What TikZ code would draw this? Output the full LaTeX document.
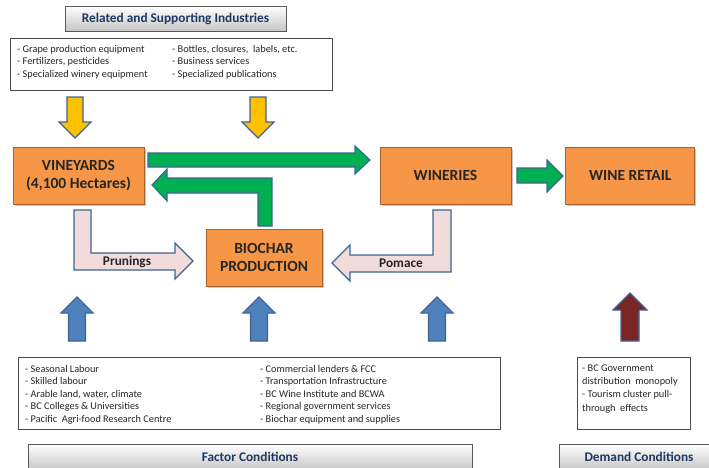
\documentclass[tikz,border=0pt]{standalone}
\usepackage{fontspec}
\setmainfont{Carlito}
\usetikzlibrary{positioning, calc, shadows}
\definecolor{boxorange}{HTML}{F79646}
\definecolor{boxedge}{HTML}{A8612B}
\definecolor{arrline}{HTML}{3D6495}
\definecolor{arrgreen}{HTML}{00B050}
\definecolor{arryellow}{HTML}{FFC000}
\definecolor{arrpink}{HTML}{F2DCDB}
\definecolor{arrblue}{HTML}{4F81BD}
\definecolor{arrred}{HTML}{7B2525}
\definecolor{titleblue}{HTML}{1F3864}
\definecolor{textdark}{HTML}{262626}
\tikzstyle{Box} = [
draw=boxedge, fill=boxorange, line width=0.8pt,
minimum width=131pt, minimum height=57pt, align=center,
font=\fontsize{15.5}{18}\selectfont\bfseries, text=textdark,
drop shadow={shadow xshift=1.5pt, shadow yshift=-1.5pt, opacity=0.45}]
\tikzstyle{Head} = [
draw=gray!70!black, line width=0.6pt, top color=white, bottom color=gray!45,
font=\fontsize{13.3}{15}\selectfont\bfseries, text=titleblue,
drop shadow={shadow xshift=1.2pt, shadow yshift=-1.2pt, opacity=0.35}]
\tikzstyle{List} = [draw=gray!60!black, line width=0.7pt, fill=white]
\tikzstyle{Items} = [anchor=north west, inner sep=0pt, align=left,
font=\fontsize{10.3}{12.5}\selectfont, text=textdark]
\tikzstyle{Arr} = [draw=arrline, line width=1.1pt, line join=miter]
\tikzstyle{Flow} = [font=\fontsize{13.3}{15}\selectfont\bfseries, text=textdark]

\begin{document}
\begin{tikzpicture}[x=1pt, y=-1pt]
    \useasboundingbox (0,0) rectangle (709,467);
    % related and supporting industries
    \node (1) [Head, minimum width=221pt, minimum height=25pt] at (175.5,18.5) {Related and Supporting Industries};
    \node (2) [List, minimum width=322pt, minimum height=52pt] at (171,64) {};
    \node [Items] at (17,45) {- Grape production equipment\\- Fertilizers, pesticides\\- Specialized winery equipment};
    \node [Items] at (172,45) {- Bottles, closures,\ \ labels, etc.\\- Business services\\- Specialized publications};
    % the cluster
    \node (3) [Box] at (78.5,176) {VINEYARDS\\(4,100 Hectares)};
    \node (4) [Box] at (445.5,175.5) {WINERIES};
    \node (5) [Box, minimum width=129pt, right=54pt of 4] {WINE RETAIL};
    \node (6) [Box, minimum width=116pt, minimum height=57pt] at (264,257.5) {BIOCHAR\\PRODUCTION};
    % factor and demand conditions
    \node (7) [List, minimum width=482pt, minimum height=72pt] at (259,393) {};
    \node [Items] at (25,365) {- Seasonal Labour\\- Skilled labour\\- Arable land, water, climate\\- BC Colleges \& Universities\\- Pacific\ \ Agri-food Research Centre};
    \node [Items] at (260,365) {- Commercial lenders \& FCC\\- Transportation Infrastructure\\- BC Wine Institute and BCWA\\- Regional government services\\- Biochar equipment and supplies};
    \node (8) [Head, minimum width=444pt, minimum height=26pt] at (250,457) {Factor Conditions};
    \node (9) [List, minimum width=113pt, minimum height=72pt] at (633.5,393.5) {};
    \node [Items, font=\fontsize{10.3}{13.3}\selectfont] at (582,364.5) {- BC Government\\distribution\ \ monopoly\\- Tourism cluster pull-\\through\ \ effects};
    \node (10) [Head, minimum width=160pt, minimum height=26pt] at (639,457) {Demand Conditions};

    % supplier arrows
    \draw[Arr, fill=arryellow] (67,97) -- (83,97) -- (83,122) -- (91,122) -- (75,138) -- (59,122) -- (67,122) -- cycle;
    \draw[Arr, fill=arryellow] (250,97) -- (266,97) -- (266,122) -- (274,122) -- (258,138) -- (242,122) -- (250,122) -- cycle;
    % product flow
    \draw[Arr, fill=arrgreen] (148,153) -- (355,153) -- (355,146) -- (370,160) -- (355,174) -- (355,167) -- (148,167) -- cycle;
    \draw[Arr, fill=arrgreen] (272,226) -- (272,178) -- (167,178) -- (167,169) -- (152,185) -- (167,201) -- (167,193) -- (258,193) -- (258,226) -- cycle;
    \draw[Arr, fill=arrgreen] (517,168) -- (547,168) -- (547,160) -- (563,176) -- (547,192) -- (547,183) -- (517,183) -- cycle;
    % residues to biochar
    \draw[Arr, fill=arrpink] (74,210) -- (91,210) -- (91,253) -- (175,253) -- (175,243) -- (193,261) -- (175,279) -- (175,270) -- (74,270) -- cycle;
    \draw[Arr, fill=arrpink] (451,210) -- (433,210) -- (433,255) -- (350,255) -- (350,245) -- (332,263) -- (350,281) -- (350,272) -- (451,272) -- cycle;
    \node (11) [Flow] at (127,262) {Prunings};
    \node (12) [Flow] at (401,263) {Pomace};
    % conditions arrows
    \foreach \c in {77,259,437}
        \draw[Arr, fill=arrblue] ({\c-8.5},341) -- ({\c-8.5},313) -- ({\c-16},313) -- (\c,297) -- ({\c+16},313) -- ({\c+8.5},313) -- ({\c+8.5},341) -- cycle;
    \draw[Arr, fill=arrred] (621,341) -- (621,310) -- (613,310) -- (630,293) -- (647,310) -- (639,310) -- (639,341) -- cycle;

\end{tikzpicture}
\end{document}
